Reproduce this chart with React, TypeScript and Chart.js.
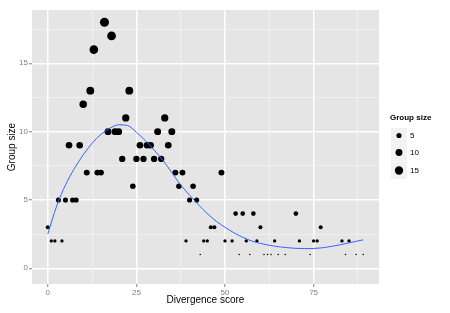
import React, { useEffect, useRef } from "react";
import { Chart, registerables } from "chart.js";
Chart.register(...registerables);

// Divergence score (x) and group size (y, also mapped to point size)
const DIVERGENCE = [
  16, 18, 13, 12, 23, 10, 22, 33, 17, 19, 20, 31, 35,
  6, 9, 26, 28, 29, 34, 21, 25, 27, 30, 32,
  11, 14, 15, 36, 38, 49, 24, 37, 41,
  3, 5, 7, 8, 40, 42, 53, 55, 58, 70,
  0, 46, 47, 60, 77,
  1, 2, 4, 39, 44, 45, 50, 52, 56, 59, 64, 71, 75, 76, 83, 85,
  43, 54, 57, 61, 62, 63, 65, 67, 74, 84, 87, 89,
];
const GROUP_SIZE = [
  18, 17, 16, 13, 13, 12, 11, 11, 10, 10, 10, 10, 10,
  9, 9, 9, 9, 9, 9, 8, 8, 8, 8, 8,
  7, 7, 7, 7, 7, 7, 6, 6, 6,
  5, 5, 5, 5, 5, 5, 4, 4, 4, 4,
  3, 3, 3, 3, 3,
  2, 2, 2, 2, 2, 2, 2, 2, 2, 2, 2, 2, 2, 2, 2, 2,
  1, 1, 1, 1, 1, 1, 1, 1, 1, 1, 1, 1,
];

// Smoothed trend line
const SMOOTH_X = [0, 2.5, 5, 7.5, 10, 12.5, 15, 17.5, 20, 22.5, 25, 27.5, 30, 32.5, 35, 37.5, 40, 42.5, 45, 47.5, 50, 52.5, 55, 57.5, 60, 62.5, 65, 67.5, 70, 72.5, 75, 77.5, 80, 82.5, 85, 87.5, 89];
const SMOOTH_Y = [2.5, 4.55, 6.1, 7.3, 8.3, 9.15, 9.8, 10.25, 10.5, 10.45, 9.95, 9.35, 8.65, 7.9, 7.0, 6.1, 5.35, 4.65, 4.0, 3.45, 3.0, 2.6, 2.27, 2.0, 1.82, 1.68, 1.58, 1.51, 1.46, 1.44, 1.45, 1.5, 1.6, 1.72, 1.86, 2.0, 2.08];

const X_TICKS = [0, 25, 50, 75];
const X_MINOR = [12.5, 37.5, 62.5, 87.5];
const Y_TICKS = [0, 5, 10, 15];
const Y_MINOR = [2.5, 7.5, 12.5, 17.5];
const LEGEND_SIZES = [5, 10, 15];
const SIZE_MIN = 1;
const SIZE_MAX = 18;

const FONT = '"Liberation Sans", Arial, Helvetica, sans-serif';

function radiusFor(v: number): number {
  const t = Math.max(0, (v - SIZE_MIN) / (SIZE_MAX - SIZE_MIN));
  return 0.75 * (1 + 5 * Math.sqrt(t));
}

const panelBg = {
  id: "panelBg",
  beforeDraw(chart: any) {
    const { ctx, chartArea: a } = chart;
    ctx.save();
    ctx.fillStyle = "#E5E5E5";
    ctx.fillRect(a.left, a.top, a.right - a.left, a.bottom - a.top);
    ctx.restore();
  },
};

const sizeLegend = {
  id: "sizeLegend",
  afterDraw(chart: any) {
    const ctx = chart.ctx;
    ctx.save();
    ctx.fillStyle = "#000";
    ctx.textBaseline = "middle";
    ctx.textAlign = "left";
    ctx.font = `bold 8px ${FONT}`;
    ctx.fillText("Group size", 390, 118);
    const tops = [128, 143.5, 162];
    const heights = [15, 18, 17];
    LEGEND_SIZES.forEach((v, i) => {
      ctx.fillStyle = "#F2F2F2";
      ctx.fillRect(391, tops[i], 16, heights[i]);
      const cy = tops[i] + heights[i] / 2;
      ctx.fillStyle = "#000";
      ctx.beginPath();
      ctx.arc(399, cy, radiusFor(v), 0, Math.PI * 2);
      ctx.fill();
      ctx.font = `8px ${FONT}`;
      ctx.fillText(String(v), 410, cy);
    });
    ctx.restore();
  },
};

function isMajor(list: number[], v: number) {
  return list.some((t) => Math.abs(t - v) < 1e-9);
}

export default function App() {
  const ref = useRef<HTMLCanvasElement | null>(null);
  useEffect(() => {
    if (!ref.current) return;
    const points = DIVERGENCE.map((x, i) => ({ x, y: GROUP_SIZE[i] }));
    const smooth = SMOOTH_X.map((x, i) => ({ x, y: SMOOTH_Y[i] }));
    const chart = new Chart(ref.current, {
      type: "scatter",
      data: {
        datasets: [
          {
            type: "line",
            data: smooth,
            borderColor: "#3366FF",
            borderWidth: 1,
            pointRadius: 0,
            fill: false,
            showLine: true,
            cubicInterpolationMode: "monotone",
            order: 0,
          } as any,
          {
            type: "scatter",
            data: points,
            backgroundColor: "#000",
            borderWidth: 0,
            pointRadius: (c: any) => (c.raw ? radiusFor(c.raw.y) : 2),
            order: 1,
          } as any,
        ],
      },
      options: {
        animation: false,
        responsive: false,
        events: [],
        layout: { padding: { top: 10, right: 71, left: 0, bottom: 0 } },
        plugins: { legend: { display: false }, tooltip: { enabled: false } },
        scales: {
          x: {
            type: "linear",
            min: -4.45,
            max: 93.45,
            afterBuildTicks: (s: any) => {
              s.ticks = [...X_TICKS, ...X_MINOR].sort((a, b) => a - b).map((value) => ({ value }));
            },
            afterFit: (s: any) => {
              s.height = 29;
            },
            ticks: {
              autoSkip: false,
              maxRotation: 0,
              padding: 1,
              color: "#7F7F7F",
              font: { size: 8, family: FONT },
              callback: (v: any) => (isMajor(X_TICKS, v) ? String(v) : ""),
            },
            grid: {
              color: (c: any) => (c.tick && isMajor(X_TICKS, c.tick.value) ? "#FFFFFF" : "#F2F2F2"),
              lineWidth: (c: any) => (c.tick && isMajor(X_TICKS, c.tick.value) ? 1.5 : 0.8),
              tickColor: (c: any) => (c.tick && isMajor(X_TICKS, c.tick.value) ? "#7F7F7F" : "rgba(0,0,0,0)"),
              tickWidth: 1,
              tickLength: 3,
            },
            border: { display: false },
            title: {
              display: true,
              text: "Divergence score",
              color: "#000",
              font: { size: 10, family: FONT },
              padding: { top: 0, bottom: 7 },
            },
          },
          y: {
            type: "linear",
            min: -1.15,
            max: 18.9,
            afterBuildTicks: (s: any) => {
              s.ticks = [...Y_TICKS, ...Y_MINOR].sort((a, b) => a - b).map((value) => ({ value }));
            },
            afterFit: (s: any) => {
              s.width = 32;
            },
            ticks: {
              autoSkip: false,
              padding: 1,
              color: "#7F7F7F",
              font: { size: 8, family: FONT },
              callback: (v: any) => (isMajor(Y_TICKS, v) ? String(v) : ""),
            },
            grid: {
              color: (c: any) => (c.tick && isMajor(Y_TICKS, c.tick.value) ? "#FFFFFF" : "#F2F2F2"),
              lineWidth: (c: any) => (c.tick && isMajor(Y_TICKS, c.tick.value) ? 1.5 : 0.8),
              tickColor: (c: any) => (c.tick && isMajor(Y_TICKS, c.tick.value) ? "#7F7F7F" : "rgba(0,0,0,0)"),
              tickWidth: 1,
              tickLength: 3,
            },
            border: { display: false },
            title: {
              display: true,
              text: "Group size",
              color: "#000",
              font: { size: 10, family: FONT },
              padding: { top: 6, bottom: 0 },
            },
          },
        },
      },
      plugins: [panelBg, sizeLegend],
    });
    return () => chart.destroy();
  }, []);
  return (
    <div style={{ position: "fixed", left: 0, top: 0, width: 450, height: 313, background: "#fff" }}>
      <canvas ref={ref} width={450} height={313} style={{ display: "block" }} />
    </div>
  );
}
